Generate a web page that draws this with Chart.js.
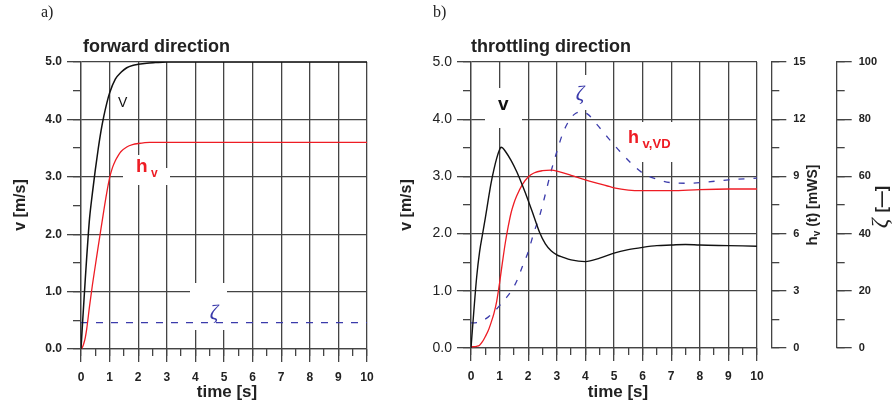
<!DOCTYPE html>
<html><head><meta charset="utf-8">
<script src="https://cdn.jsdelivr.net/npm/chart.js@4.4.0/dist/chart.umd.min.js"></script>
<style>
html,body{margin:0;padding:0;background:#fff;}
#wrap{position:relative;width:892px;height:409px;overflow:hidden;background:#fff;}
canvas{position:absolute;top:0;}
#c1{left:0;} #c2{left:400px;}
</style></head><body>
<div id="wrap"><canvas id="c1" width="400" height="409"></canvas><canvas id="c2" width="492" height="409"></canvas></div>
<script>
// ---------- data (a) forward direction ----------
const fwdVTime = [0,0.05,0.1,0.15,0.2,0.25,0.3,0.4,0.5,0.6,0.7,0.8,0.9,1.0,1.2,1.4,1.6,1.8,2.0,2.3,2.6,3.0,4,5,6,7,8,9,10];
const fwdV     = [0,0.42,0.82,1.22,1.6,1.96,2.28,2.72,3.12,3.48,3.8,4.06,4.28,4.46,4.7,4.82,4.9,4.94,4.96,4.98,4.99,5.0,5.0,5.0,5.0,5.0,5.0,5.0,5.0];
const fwdHTime = [0,0.05,0.1,0.15,0.2,0.3,0.4,0.5,0.6,0.7,0.8,0.9,1.0,1.1,1.2,1.3,1.4,1.6,1.8,2.0,2.4,3,4,5,6,7,8,9,10];
const fwdH     = [0,0.03,0.1,0.2,0.35,0.75,1.12,1.45,1.78,2.1,2.42,2.72,2.98,3.16,3.28,3.37,3.44,3.52,3.56,3.58,3.6,3.6,3.6,3.6,3.6,3.6,3.6,3.6,3.6];
const fwdZetaTime = [0,10];
const fwdZeta     = [0.46,0.46];
// ---------- data (b) throttling direction ----------
const thrVTime = [0,0.1,0.2,0.3,0.4,0.5,0.6,0.7,0.8,0.9,1.0,1.05,1.1,1.2,1.4,1.6,1.8,2.0,2.2,2.4,2.6,2.8,3.0,3.2,3.5,4.0,4.5,5.0,5.5,6.0,6.5,7.0,7.5,8.0,9.0,10];
const thrV     = [0,0.65,1.25,1.68,1.98,2.27,2.58,2.88,3.12,3.32,3.47,3.51,3.5,3.44,3.28,3.08,2.84,2.58,2.3,2.02,1.82,1.7,1.63,1.59,1.54,1.51,1.57,1.66,1.72,1.76,1.79,1.80,1.81,1.80,1.79,1.78];
const thrHTime = [0,0.2,0.3,0.4,0.5,0.6,0.7,0.8,0.9,1.0,1.1,1.2,1.3,1.4,1.5,1.6,1.8,2.0,2.2,2.5,2.8,3.1,3.5,4.0,4.5,5.0,5.5,6.0,7.0,8.0,9.0,10];
const thrH     = [0.06,0.09,0.15,0.33,0.6,0.9,1.32,1.8,2.46,3.42,4.5,5.52,6.36,7.08,7.59,7.98,8.58,8.97,9.18,9.3,9.33,9.24,9.06,8.82,8.61,8.4,8.28,8.25,8.25,8.31,8.34,8.34];
const thrZetaTime = [0,0.2,0.4,0.6,0.8,1.0,1.2,1.4,1.6,1.8,2.0,2.2,2.4,2.6,2.8,3.0,3.2,3.4,3.6,3.85,4.1,4.4,4.8,5.2,5.6,6.0,6.5,7.0,7.5,8.0,9.0,10];
const thrZeta     = [8.8,8.9,9.6,10.8,12.6,14.8,17.2,19.8,23.4,28.6,33.6,40.4,46.2,53.8,61.8,68.6,74.8,79.0,81.6,82.6,81.6,78.2,73.4,68.8,64.6,61.2,59.0,57.8,57.6,57.8,58.8,59.4];
// ---------- axis ranges / tick steps ----------
const timeRange = [0,10], timeStep = 1, timeMinor = 0.5;
const vRange = [0,5], vStep = 1, vMinor = 0.5;
const hvRange = [0,15], hvStep = 3, hvMinor = 1.5;
const zetaRange = [0,100], zetaStep = 20, zetaMinor = 10;

const pts = (xs, ys) => xs.map((x, i) => ({x, y: ys[i]}));
const GRID = '#444444', TXT = '#222', RED = '#ee1c24', BLUE = '#3b3bab', BLK = '#111';
const GW = 1.3;
const SANS = '"Liberation Sans", Arial, sans-serif', SERIF = '"Liberation Serif", "Times New Roman", serif';
Chart.defaults.font.family = SANS;
Chart.defaults.color = TXT;

const annot = {
  id: 'annot',
  beforeDatasetsDraw(chart, args, opts) {
    const ctx = chart.ctx; ctx.save(); ctx.fillStyle = '#fff';
    (opts.boxes || []).forEach(b => ctx.fillRect(b[0], b[1], b[2], b[3]));
    ctx.restore();
  },
  afterDraw(chart, args, opts) {
    const ctx = chart.ctx;
    (opts.texts || []).forEach(it => {
      ctx.save();
      ctx.translate(it.x, it.y); if (it.rot) ctx.rotate(it.rot);
      ctx.textBaseline = 'alphabetic'; ctx.textAlign = 'left';
      let w = 0;
      it.segs.forEach(s => { ctx.font = s.font; s.w = ctx.measureText(s.t).width; w += s.w; });
      let cx = it.align === 'center' ? -w / 2 : 0;
      it.segs.forEach(s => { ctx.font = s.font; ctx.fillStyle = s.color || TXT; ctx.fillText(s.t, cx, s.dy || 0); cx += s.w; });
      ctx.restore();
    });
  }
};

function xScales(h) {
  return {
    x: {type: 'linear', position: 'bottom', weight: 1, min: timeRange[0], max: timeRange[1],
        ticks: {stepSize: timeStep, autoSkip: false, maxRotation: 0, padding: 8, color: TXT, font: {size: 12, weight: 'bold'}},
        grid: {color: GRID, lineWidth: GW, tickLength: 13, tickColor: GRID},
        border: {display: true, color: GRID, width: GW},
        afterFit: s => { s.height = h; }},
    xMinor: {type: 'linear', position: 'bottom', weight: 0, min: timeRange[0], max: timeRange[1],
        ticks: {display: false, stepSize: timeMinor},
        grid: {drawOnChartArea: false, tickLength: 7, color: GRID, tickColor: GRID, lineWidth: GW},
        border: {display: false},
        afterFit: s => { s.height = 0; }}
  };
}
function yScales(w, font) {
  return {
    y: {type: 'linear', position: 'left', weight: 1, min: vRange[0], max: vRange[1],
        ticks: {stepSize: vStep, autoSkip: false, padding: 5, color: TXT, font: font, callback: v => v.toFixed(1)},
        grid: {color: GRID, lineWidth: GW, tickLength: 14, tickColor: GRID},
        border: {display: true, color: GRID, width: GW},
        afterFit: s => { s.width = w; }},
    yMinor: {type: 'linear', position: 'left', weight: 0, min: vRange[0], max: vRange[1],
        ticks: {display: false, stepSize: vMinor},
        grid: {drawOnChartArea: false, tickLength: 8, color: GRID, tickColor: GRID, lineWidth: GW},
        border: {display: false},
        afterFit: s => { s.width = 0; }}
  };
}
function rightAxis(id, weight, range, step, minorStep, width) {
  const o = {};
  o[id + 'Minor'] = {type: 'linear', position: 'right', weight: weight, min: range[0], max: range[1],
    ticks: {display: false, stepSize: minorStep},
    grid: {drawOnChartArea: false, tickLength: 8, color: GRID, tickColor: GRID, lineWidth: GW},
    border: {display: false}, afterFit: s => { s.width = 0; }};
  o[id] = {type: 'linear', position: 'right', weight: weight + 1, min: range[0], max: range[1],
    ticks: {stepSize: step, autoSkip: false, padding: 7, color: TXT, font: {size: 11, weight: 'bold'}},
    grid: {drawOnChartArea: false, tickLength: 15, color: GRID, tickColor: GRID, lineWidth: GW},
    border: {display: true, color: GRID, width: GW}, afterFit: s => { s.width = width; }};
  return o;
}
const line = (data, color, yID, extra) => Object.assign({
  data, borderColor: color, borderWidth: 1.3, pointRadius: 0, fill: false,
  cubicInterpolationMode: 'monotone', xAxisID: 'x', yAxisID: yID
}, extra || {});
const common = {
  responsive: false, animation: false, devicePixelRatio: 1, events: [],
  parsing: true
};

// ---------- chart (a) ----------
new Chart(document.getElementById('c1'), {
  type: 'line',
  data: {datasets: [
    line(pts(fwdVTime, fwdV), BLK, 'y', {borderWidth: 1.5}),
    line(pts(fwdHTime, fwdH), RED, 'y'),
    line(pts(fwdZetaTime, fwdZeta), BLUE, 'y', {borderDash: [7, 8]})
  ]},
  options: Object.assign({}, common, {
    layout: {padding: {top: 62, right: 33, bottom: 0, left: 0}},
    scales: Object.assign({}, xScales(60), yScales(81, {size: 12, weight: 'bold'})),
    plugins: {legend: {display: false}, tooltip: {enabled: false},
      annot: {
        boxes: [[123, 155, 27, 30], [150, 168, 20, 17], [190, 283, 37, 47]],
        texts: [
          {x: 41, y: 17, segs: [{t: 'a)', font: '16px ' + SERIF}]},
          {x: 83, y: 52, segs: [{t: 'forward direction', font: 'bold 18px ' + SANS}]},
          {x: 118, y: 107, segs: [{t: 'V', font: '14px ' + SANS, color: BLK}]},
          {x: 136, y: 172, segs: [{t: 'h', font: 'bold 19px ' + SANS, color: RED}, {t: ' v', font: 'bold 12px ' + SANS, color: RED, dy: 5}]},
          {x: 214, y: 319, align: 'center', segs: [{t: 'ζ', font: 'italic 21px ' + SERIF, color: BLUE}]},
          {x: 25, y: 205, rot: -Math.PI / 2, align: 'center', segs: [{t: 'v [m/s]', font: 'bold 16px ' + SANS}]},
          {x: 227, y: 397, align: 'center', segs: [{t: 'time [s]', font: 'bold 17px ' + SANS}]}
        ]
      }}
  }),
  plugins: [annot]
});

// ---------- chart (b) ----------
new Chart(document.getElementById('c2'), {
  type: 'line',
  data: {datasets: [
    line(pts(thrVTime, thrV), BLK, 'y', {borderWidth: 1.4}),
    line(pts(thrHTime, thrH), RED, 'hv'),
    line(pts(thrZetaTime, thrZeta), BLUE, 'zeta', {borderDash: [6, 9]})
  ]},
  options: Object.assign({}, common, {
    layout: {padding: {top: 62, right: 0, bottom: 0, left: 0}},
    scales: Object.assign({}, xScales(61), yScales(71, {size: 14}),
      {spacer: {type: 'linear', position: 'right', weight: 0, min: 0, max: 1,
        ticks: {display: false}, grid: {display: false}, border: {display: false},
        afterFit: s => { s.width = 14.3; }}},
      rightAxis('hv', 1, hvRange, hvStep, hvMinor, 65.4),
      rightAxis('zeta', 3, zetaRange, zetaStep, zetaMinor, 55.3)),
    plugins: {legend: {display: false}, tooltip: {enabled: false},
      annot: {
        boxes: [[85, 88, 37, 40], [165, 75, 30, 35], [220, 122, 60, 40]],
        texts: [
          {x: 33, y: 17, segs: [{t: 'b)', font: '16px ' + SERIF}]},
          {x: 71, y: 52, segs: [{t: 'throttling direction', font: 'bold 18px ' + SANS}]},
          {x: 98, y: 110, segs: [{t: 'v', font: 'bold 19px ' + SANS, color: BLK}]},
          {x: 180, y: 100, align: 'center', segs: [{t: 'ζ', font: 'italic 21px ' + SERIF, color: BLUE}]},
          {x: 228, y: 143, segs: [{t: 'h', font: 'bold 18px ' + SANS, color: RED}, {t: ' v,VD', font: 'bold 13px ' + SANS, color: RED, dy: 5}]},
          {x: 11, y: 205, rot: -Math.PI / 2, align: 'center', segs: [{t: 'v [m/s]', font: 'bold 16px ' + SANS}]},
          {x: 218, y: 397, align: 'center', segs: [{t: 'time [s]', font: 'bold 17px ' + SANS}]},
          {x: 417, y: 205, rot: -Math.PI / 2, align: 'center', segs: [{t: 'h', font: 'bold 15px ' + SANS}, {t: 'v', font: 'bold 10px ' + SANS, dy: 3}, {t: ' (t) [mWS]', font: 'bold 14px ' + SANS}]},
          {x: 487, y: 207, rot: -Math.PI / 2, align: 'center', segs: [{t: 'ζ ', font: 'italic 24px ' + SERIF}, {t: '[—]', font: 'bold 16px ' + SANS}]}
        ]
      }}
  }),
  plugins: [annot]
});
</script>
</body></html>
